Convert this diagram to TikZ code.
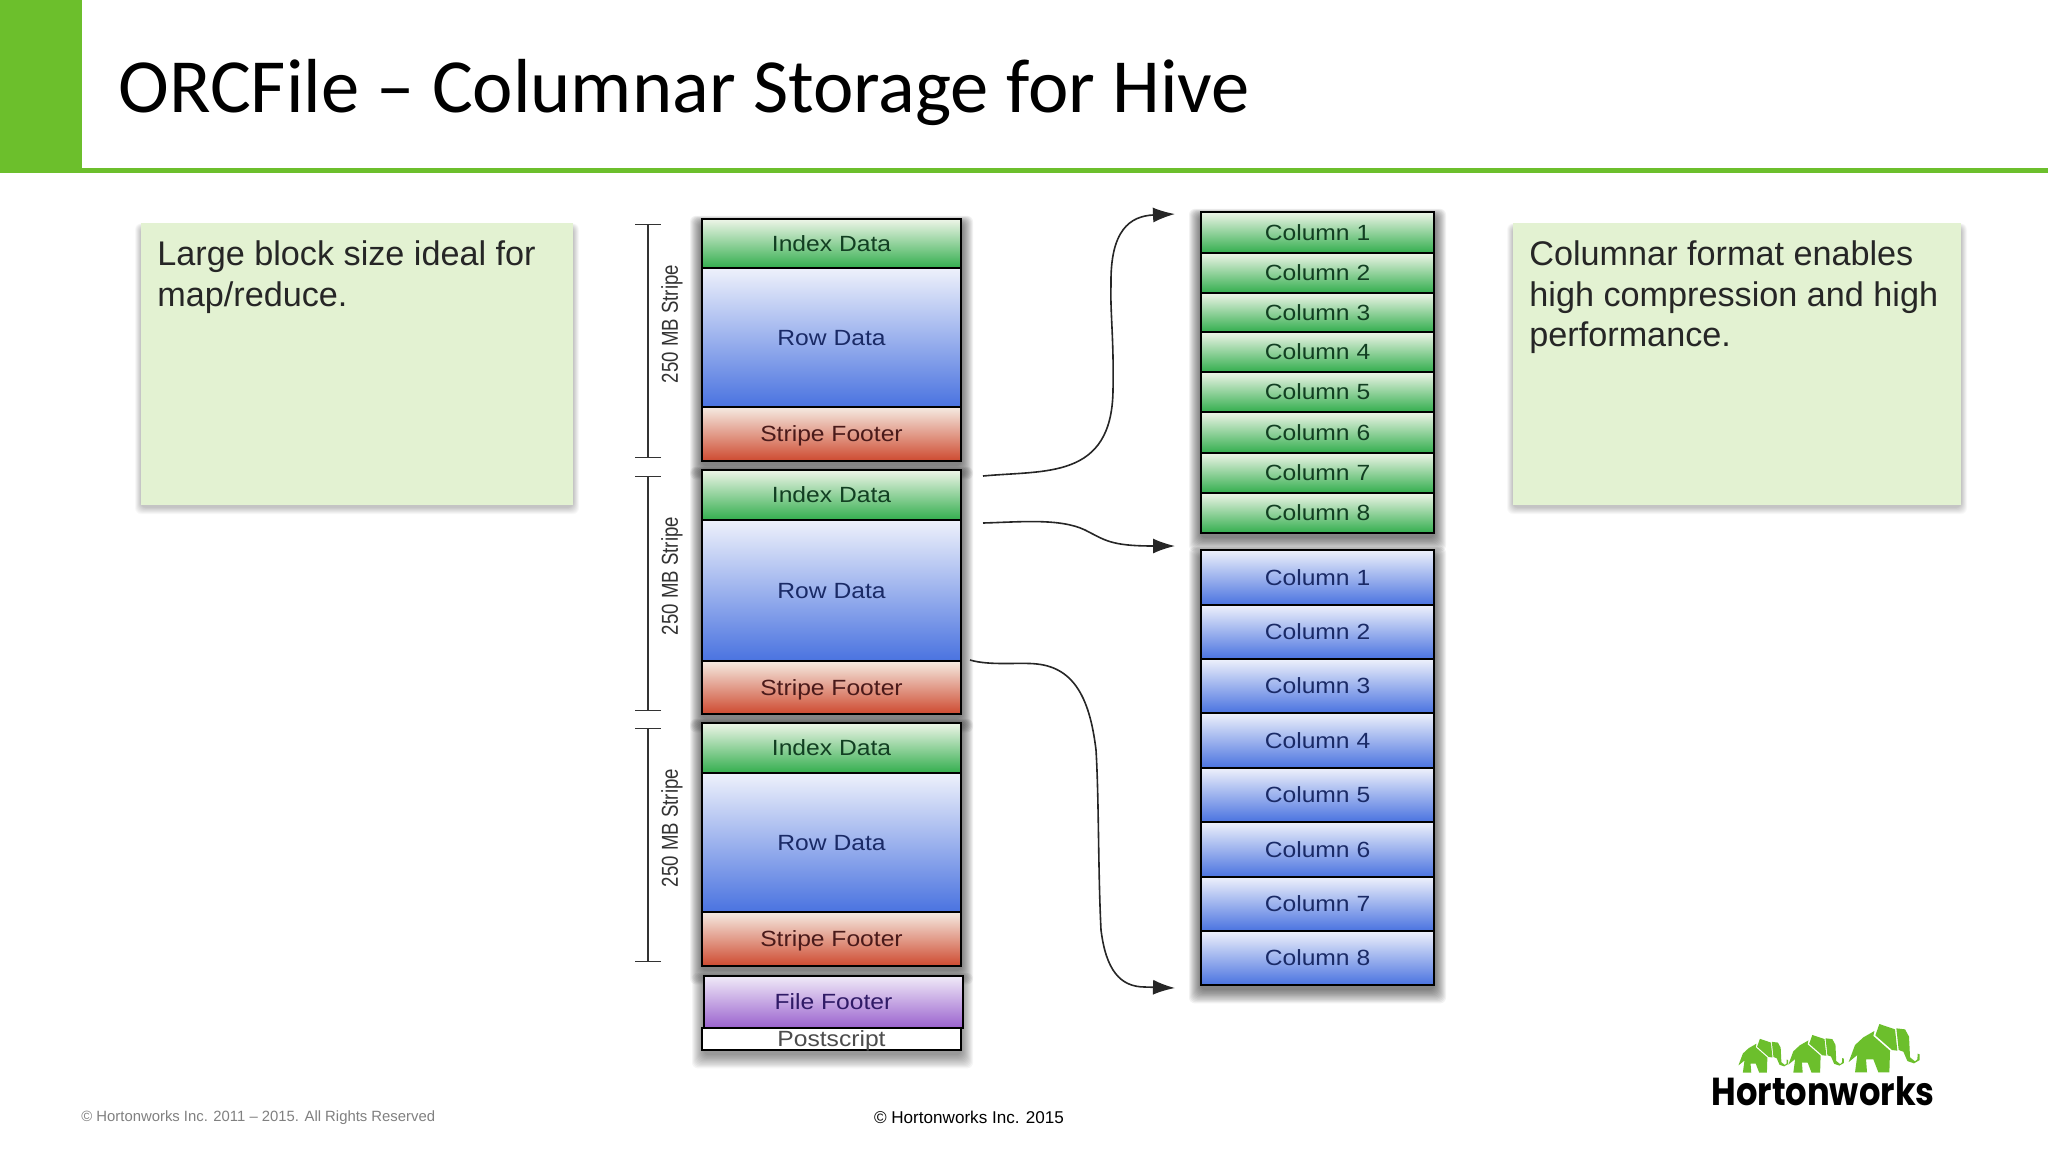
\documentclass[tikz,border=0pt]{standalone}
\usepackage{fontspec}
\usetikzlibrary{arrows.meta}
\setmainfont{Liberation Sans}
\newfontfamily\titlefont{Carlito}
\newfontfamily\diagfont[FakeStretch=1.12]{Liberation Sans}
\newfontfamily\sidefont[FakeStretch=0.81]{Liberation Sans}
\newfontfamily\logofont[FakeStretch=0.865]{Poppins}
\definecolor{hwgreen}{HTML}{6CBF2C}
\definecolor{notegreen}{HTML}{E3F2D2}
\definecolor{hwTop}{HTML}{EEF5E8}\definecolor{hwMid}{HTML}{A3DBA8}\definecolor{hwBot}{HTML}{33AE4E}
\definecolor{blTop}{HTML}{EEF1FB}\definecolor{blMid}{HTML}{A9BDEE}\definecolor{blBot}{HTML}{4A73E0}
\definecolor{rdTop}{HTML}{F5EBE2}\definecolor{rdMid}{HTML}{E8AEA2}\definecolor{rdBot}{HTML}{CE4A30}
\definecolor{puTop}{HTML}{F0EAF8}\definecolor{puMid}{HTML}{C9A8E8}\definecolor{puBot}{HTML}{9A62CE}
\definecolor{textG}{HTML}{123F22}\definecolor{textB}{HTML}{1A2A66}\definecolor{textR}{HTML}{4A1A1A}\definecolor{textP}{HTML}{2F1A66}
\tikzset{
  segbox/.style={draw=black,line width=1.1pt,inner sep=0pt,outer sep=0pt,text height=8.5pt,text depth=0.7pt,font=\diagfont\fontsize{11}{12}\selectfont},
  gseg/.style={segbox,top color=hwTop,middle color=hwMid,bottom color=hwBot,text=textG},
  bseg/.style={segbox,top color=blTop,middle color=blMid,bottom color=blBot,text=textB},
  rseg/.style={segbox,top color=rdTop,middle color=rdMid,bottom color=rdBot,text=textR},
  pseg/.style={segbox,top color=puTop,middle color=puMid,bottom color=puBot,text=textP},
  wseg/.style={segbox,fill=white,text=black!70,line width=0.9pt},
  note/.style={fill=notegreen,draw=none,inner sep=0pt,outer sep=0pt},
  notetext/.style={anchor=north west,align=left,inner sep=0pt,font=\fontsize{17.1}{20.2}\selectfont,text=black!85},
  conn/.style={draw=black!85,line width=0.8pt,-{Latex[length=11pt,width=7.5pt]}},
  span/.style={draw=black!80,line width=0.9pt,{Bar[width=13pt,line width=.7pt]}-{Bar[width=13pt,line width=.7pt]}},
  sidelabel/.style={rotate=90,inner sep=0pt,text=black!80,font=\sidefont\fontsize{11.5}{12}\selectfont},
  elephant/.style={fill=hwgreen,draw=none},
}
\newcommand\seg[7]{\pgfmathsetmacro\segw{(#4-#2)*0.5}\pgfmathsetmacro\segh{(#5-#3)*0.5}%
  \node[#6,minimum width=\segw pt,minimum height=\segh pt] (#1) at ({(#2+#4)/2},{(#3+#5)/2}) {#7};}
% x1 y1 x2 y2 opacity-per-layer step
\newcommand\softshadow[6]{%
  \foreach \k in {1,...,12}{\fill[black,opacity=#5,rounded corners=3pt] ({#1-(13-\k)*#6},{#2-(13-\k)*#6*0.6+4}) rectangle ({#3+(13-\k)*#6},{#4+(13-\k)*#6*1.2+4});}}
\newcommand\elephantshape{%
  \fill[elephant] (566,186)--(585,135)--(610,112)--(643,93)--(640,108)--(690,152)--(688,217)--(655,217)--(640,178)--(618,178)--(621,217)--(585,217)--(592,165)--cycle;
  \fill[elephant] (658,72)--(705,88)--(712,152)--(696,150)--(646,106)--cycle;
  \fill[elephant] (709,85)--(735,88)--(747,110)--(750,172)--(765,184)--(772,178)--(773,161)--(779,163)--(779,180)--(762,190)--(742,183)--(730,155)--(716,150)--cycle;
}
\begin{document}
\begin{tikzpicture}[x=0.5pt,y=-0.5pt]
\useasboundingbox (0,0) rectangle (2048,1152);
\fill[white] (0,0) rectangle (2048,1152);
% header
\fill[hwgreen] (0,0) rectangle (82,172);
\fill[hwgreen] (0,168) rectangle (2048,173);
\node[anchor=base west,inner sep=0pt,font=\titlefont\fontsize{38.3}{40}\selectfont,text=black] (title) at (118,112) {ORCFile – Columnar Storage for Hive};
% notes
\softshadow{141}{223}{573}{503}{0.02}{0.5}
\softshadow{1513}{223}{1961}{503}{0.02}{0.5}
\node[note,minimum width=216pt,minimum height=141pt] (leftnote) at (357,364) {};
\node[note,minimum width=224pt,minimum height=141pt] (rightnote) at (1737,364) {};
\node[notetext] (lefttext) at (157,240.5) {Large block size ideal for\\map/reduce.};
\node[notetext] (righttext) at (1529,240.5) {Columnar format enables\\high compression and high\\performance.};
% shadows
\softshadow{702}{219}{961}{461}{0.05}{1}
\softshadow{702}{470}{961}{714}{0.05}{1}
\softshadow{702}{722}{961}{966}{0.05}{1}
\softshadow{704}{976}{961}{1050}{0.04}{1}
\softshadow{1201}{212}{1434}{533}{0.05}{1}
\softshadow{1201}{550}{1434}{985}{0.05}{1}
% stripes
\seg{i1}{702}{219}{961}{268}{gseg}{Index Data}
\seg{r1}{702}{268}{961}{407}{bseg}{Row Data}
\seg{f1}{702}{407}{961}{461}{rseg}{Stripe Footer}
\seg{i2}{702}{470}{961}{520}{gseg}{Index Data}
\seg{r2}{702}{520}{961}{661}{bseg}{Row Data}
\seg{f2}{702}{661}{961}{714}{rseg}{Stripe Footer}
\seg{i3}{702}{723}{961}{773}{gseg}{Index Data}
\seg{r3}{702}{773}{961}{912}{bseg}{Row Data}
\seg{f3}{702}{912}{961}{966}{rseg}{Stripe Footer}
\seg{ff}{704}{976}{963}{1028}{pseg}{File Footer}
\seg{ps}{702}{1028}{961}{1050}{wseg}{Postscript}
% columns
\seg{g1}{1201}{212}{1434}{253}{gseg}{Column 1}
\seg{g2}{1201}{253}{1434}{293}{gseg}{Column 2}
\seg{g3}{1201}{293}{1434}{332}{gseg}{Column 3}
\seg{g4}{1201}{332}{1434}{372}{gseg}{Column 4}
\seg{g5}{1201}{372}{1434}{412}{gseg}{Column 5}
\seg{g6}{1201}{412}{1434}{453}{gseg}{Column 6}
\seg{g7}{1201}{453}{1434}{493}{gseg}{Column 7}
\seg{g8}{1201}{493}{1434}{533}{gseg}{Column 8}
\seg{b1}{1201}{550}{1434}{605}{bseg}{Column 1}
\seg{b2}{1201}{605}{1434}{659}{bseg}{Column 2}
\seg{b3}{1201}{659}{1434}{713}{bseg}{Column 3}
\seg{b4}{1201}{713}{1434}{768}{bseg}{Column 4}
\seg{b5}{1201}{768}{1434}{822}{bseg}{Column 5}
\seg{b6}{1201}{822}{1434}{877}{bseg}{Column 6}
\seg{b7}{1201}{877}{1434}{931}{bseg}{Column 7}
\seg{b8}{1201}{931}{1434}{985}{bseg}{Column 8}
% spans
\coordinate (s1t) at (648,224); \coordinate (s1b) at (648,458);
\coordinate (s2t) at (648,476); \coordinate (s2b) at (648,711);
\coordinate (s3t) at (648,728); \coordinate (s3b) at (648,962);
\draw[span] (s1t) -- (s1b);
\draw[span] (s2t) -- (s2b);
\draw[span] (s3t) -- (s3b);
\node[sidelabel] (l1) at (672,324) {250 MB Stripe};
\node[sidelabel] (l2) at (672,576) {250 MB Stripe};
\node[sidelabel] (l3) at (672,828) {250 MB Stripe};
% connectors
\coordinate (a1) at (983,476); \coordinate (a2) at (1175,214);
\coordinate (b1c) at (983,523); \coordinate (b2c) at (1175,546);
\coordinate (c1) at (970,660); \coordinate (c2) at (1175,988);
\draw[conn] (a1) .. controls (1045,470) and (1112,480) .. (1113,390) .. controls (1114,340) and (1110,310) .. (1111,285) .. controls (1110,230) and (1130,216) .. (a2);
\draw[conn] (b1c) .. controls (1020,522) and (1060,518) .. (1085,530) .. controls (1105,540) and (1110,546) .. (b2c);
\draw[conn] (c1) .. controls (990,666) and (1020,662) .. (1037,664) .. controls (1075,668) and (1090,700) .. (1096,750) .. controls (1099,800) and (1098,870) .. (1101,930) .. controls (1106,970) and (1120,987) .. (1145,987) -- (c2);
% footer
\node[anchor=base west,inner sep=0pt,text=black!50,font=\fontsize{7.43}{9}\selectfont] (copyl) at (81,1121) {© Hortonworks Inc. 2011 – 2015. All Rights Reserved};
\node[anchor=base,inner sep=0pt,text=black,font=\fontsize{8.55}{9}\selectfont] (copyc) at (969,1123) {© Hortonworks Inc. 2015};
% logo
\begin{scope}[shift={(1660,1000)},x=0.16667pt,y=-0.16667pt]
  \elephantshape
\end{scope}
\begin{scope}[shift={(1641.2,1016.2)},x=0.13pt,y=-0.13pt]
  \elephantshape
\end{scope}
\begin{scope}[shift={(1606.3,1022)},x=0.1167pt,y=-0.1167pt]
  \elephantshape
\end{scope}
\node[anchor=base west,inner sep=0pt,text=black,font=\logofont\bfseries\fontsize{19.5}{20}\selectfont] (logo) at (1711,1105) {Hortonworks};
\end{tikzpicture}
\end{document}
